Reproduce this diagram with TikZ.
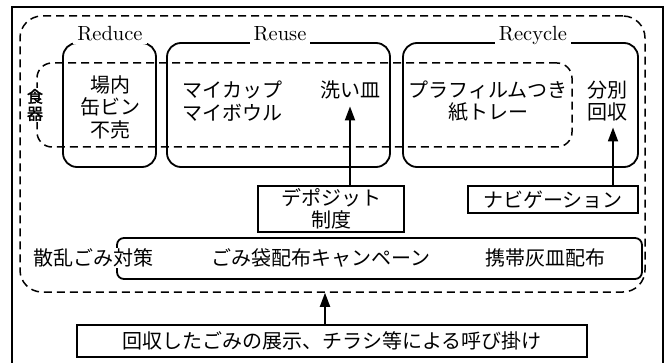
\documentclass[tikz,border=0pt]{standalone}
\usepackage{fontspec}
\newfontfamily\cjk{Noto Sans CJK JP}
\newfontfamily\cjkb[FakeBold=2]{Noto Sans CJK JP}
\newfontfamily\lmten{lmroman10-regular.otf}
\usetikzlibrary{arrows.meta}
\begin{document}
\begin{tikzpicture}[x=1pt,y=-1pt,
 jp/.style={font=\cjk\fontsize{20}{22.5}\selectfont, align=center, inner sep=1pt},
 rbox/.style={draw, line width=1.8pt, rounded corners=14pt, inner sep=0pt},
 sbox/.style={draw, line width=1.8pt, inner sep=0pt},
 dbox/.style={draw, line width=1.5pt, dash pattern=on 8pt off 5pt, inner sep=0pt},
 lab/.style={fill=white, font=\lmten\fontsize{20.5}{24}\selectfont, inner xsep=4pt, inner ysep=3pt, anchor=base},
 arr/.style={line width=1.8pt, -{Triangle[width=10pt,length=14pt]}},
]
\useasboundingbox (0,0) rectangle (671,363);
\draw[line width=2pt] (12,363) -- (12,7) -- (663,7) -- (663,363);
\node[dbox, rounded corners=22pt, minimum width=625pt, minimum height=276pt] (outer) at (332.5,154) {};
\node[dbox, rounded corners=15pt, minimum width=535pt, minimum height=84pt] (food) at (304.5,105) {};
\node[rbox, minimum width=93pt, minimum height=124pt] (reduce) at (109.5,105) {};
\node[rbox, minimum width=223pt, minimum height=124pt] (reuse) at (278.5,105) {};
\node[rbox, minimum width=235pt, minimum height=124pt] (recycle) at (520.5,105) {};
\node[lab] (lreduce) at (110,41) {Reduce};
\node[lab] (lreuse) at (280,41) {Reuse};
\node[lab] (lrecycle) at (533,41) {Recycle};
\node[fill=white, font=\cjkb\fontsize{16}{17}\selectfont, align=center, inner sep=1pt] (foodlbl) at (35,105) {食\\器};
\node[jp] (reducetxt) at (110,107) {場内\\缶ビン\\不売};
\node[jp] (cup) at (232,101) {マイカップ\\マイボウル};
\node[jp] (wash) at (350,90) {洗い皿};
\node[jp] (tray) at (488,101) {プラフィルムつき\\紙トレー};
\node[jp] (sort) at (607,101) {分別\\回収};
\node[jp, sbox, minimum width=146pt, minimum height=46pt] (deposit) at (331,209) {デポジット\\制度};
\node[jp, sbox, minimum width=170pt, minimum height=27pt] (navi) at (553,199.5) {ナビゲーション};
\node[draw, line width=1.8pt, rounded corners=7pt, minimum width=525pt, minimum height=41pt, inner sep=0pt] (litter) at (379.5,258.5) {};
\node[jp, fill=white] (scatter) at (93,258) {散乱ごみ対策};
\node[jp] (bag) at (321,258) {ごみ袋配布キャンペーン};
\node[jp] (ash) at (545,258) {携帯灰皿配布};
\node[jp, sbox, minimum width=510pt, minimum height=32pt] (call) at (332,341) {回収したごみの展示、チラシ等による呼び掛け};
\coordinate (callup) at ([xshift=-7pt]call.north);
\coordinate (sortpt) at ([xshift=6pt]sort.south);
\draw[arr] (callup) -- (callup |- outer.south);
\draw[arr, shorten >=6pt] (wash.south |- deposit.north) -- (wash.south);
\draw[arr, shorten >=5pt] (sortpt |- navi.north) -- (sortpt);
\end{tikzpicture}
\end{document}
